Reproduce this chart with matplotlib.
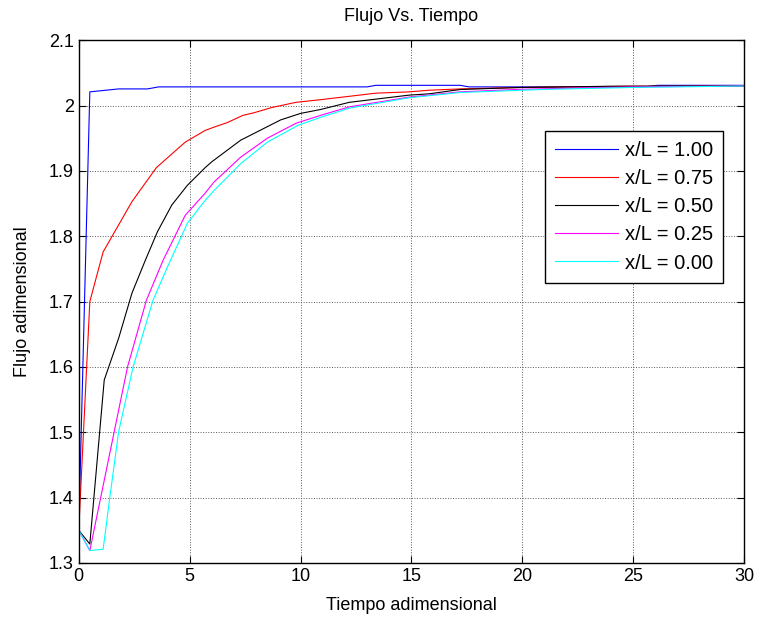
import matplotlib
matplotlib.use("Agg")
import matplotlib.pyplot as plt

# x/L = 1.00
t_100 = [0, 0.5, 1.8, 3.1, 3.6, 13.0, 13.4, 17.2, 17.6, 25.5, 26.1, 30]
f_100 = [1.35, 2.021, 2.0255, 2.0255, 2.0286, 2.0286, 2.031, 2.031, 2.0286, 2.0286, 2.031, 2.031]

# x/L = 0.75
t_075 = [0, 0.5, 1.1, 2.4, 3.5, 4.8, 5.7, 6.1, 6.7, 7.4, 7.9, 8.7, 9.8, 10.9,
         13.4, 14.9, 15.8, 17.2, 19.9, 24.9, 30]
f_075 = [1.35, 1.70, 1.776, 1.853, 1.905, 1.944, 1.962, 1.967, 1.974, 1.985, 1.989,
         1.997, 2.005, 2.009, 2.019, 2.021, 2.0235, 2.0255, 2.0277, 2.0296, 2.030]

# x/L = 0.50
t_050 = [0, 0.5, 1.15, 1.8, 2.4, 3.0, 3.55, 4.2, 4.9, 5.7, 6.0, 7.3, 9.1, 10.0,
         10.9, 12.2, 14.9, 15.8, 17.2, 19.9, 24.0, 30]
f_050 = [1.35, 1.329, 1.58, 1.644, 1.713, 1.763, 1.807, 1.848, 1.878, 1.905, 1.914,
         1.947, 1.978, 1.988, 1.994, 2.005, 2.016, 2.018, 2.0246, 2.0277, 2.0296, 2.030]

# x/L = 0.25
t_025 = [0, 0.5, 1.6, 2.2, 3.05, 3.8, 4.8, 5.7, 6.1, 7.3, 8.5, 9.8, 10.9, 12.2,
         14.9, 17.2, 20.0, 24.9, 30]
f_025 = [1.35, 1.319, 1.501, 1.60, 1.702, 1.763, 1.832, 1.866, 1.883, 1.921, 1.95,
         1.973, 1.985, 1.998, 2.013, 2.021, 2.025, 2.0286, 2.030]

# x/L = 0.00
t_000 = [0, 0.5, 1.1, 1.4, 1.8, 2.45, 3.35, 4.0, 4.9, 5.7, 6.1, 7.3, 8.5, 9.9,
         10.9, 12.2, 14.9, 17.2, 20.9, 24.9, 30]
f_000 = [1.35, 1.319, 1.321, 1.40, 1.501, 1.60, 1.702, 1.753, 1.82, 1.855, 1.87,
         1.911, 1.944, 1.97, 1.982, 1.996, 2.012, 2.020, 2.0246, 2.0277, 2.030]

labels = ["x/L = 1.00", "x/L = 0.75", "x/L = 0.50", "x/L = 0.25", "x/L = 0.00"]

plt.rcParams['font.family'] = ['Liberation Sans', 'DejaVu Sans']
plt.rcParams['font.size'] = 12

fig = plt.figure(figsize=(7.57, 6.19), dpi=100)
ax = fig.add_axes([0.104, 0.0905, 0.879, 0.8445])

lw = 0.8
ax.plot(t_100, f_100, color='#0000ff', lw=lw, label=labels[0])
ax.plot(t_075, f_075, color='#ff0000', lw=lw, label=labels[1])
ax.plot(t_050, f_050, color='#000000', lw=lw, label=labels[2])
ax.plot(t_025, f_025, color='#ff00ff', lw=lw, label=labels[3])
ax.plot(t_000, f_000, color='#00ffff', lw=lw, label=labels[4])

ax.set_xlim(0, 30)
ax.set_ylim(1.3, 2.1)
ax.set_xticks([0, 5, 10, 15, 20, 25, 30])
ax.set_yticks([1.3, 1.4, 1.5, 1.6, 1.7, 1.8, 1.9, 2.0, 2.1])
ax.set_yticklabels(["1.3", "1.4", "1.5", "1.6", "1.7", "1.8", "1.9", "2", "2.1"])
ax.grid(True, linestyle=':', color='0.35', linewidth=0.7)
ax.tick_params(direction='in', top=True, right=True, length=5, width=0.8, labelsize=13)
for sp in ax.spines.values():
    sp.set_linewidth(1.0)

ax.set_title("Flujo Vs. Tiempo", fontsize=13, pad=14)
ax.set_xlabel("Tiempo adimensional", fontsize=13, labelpad=9)
ax.set_ylabel("Flujo adimensional", fontsize=13, labelpad=13)

leg = ax.legend(loc='upper right', bbox_to_anchor=(0.968, 0.826), borderaxespad=0,
                fancybox=False, framealpha=1, edgecolor='black', fontsize=14.5,
                handlelength=3.1, handletextpad=0.35, labelspacing=0.45,
                borderpad=0.5)
leg.get_frame().set_linewidth(1.0)

fig.savefig("out.png", dpi=100)
